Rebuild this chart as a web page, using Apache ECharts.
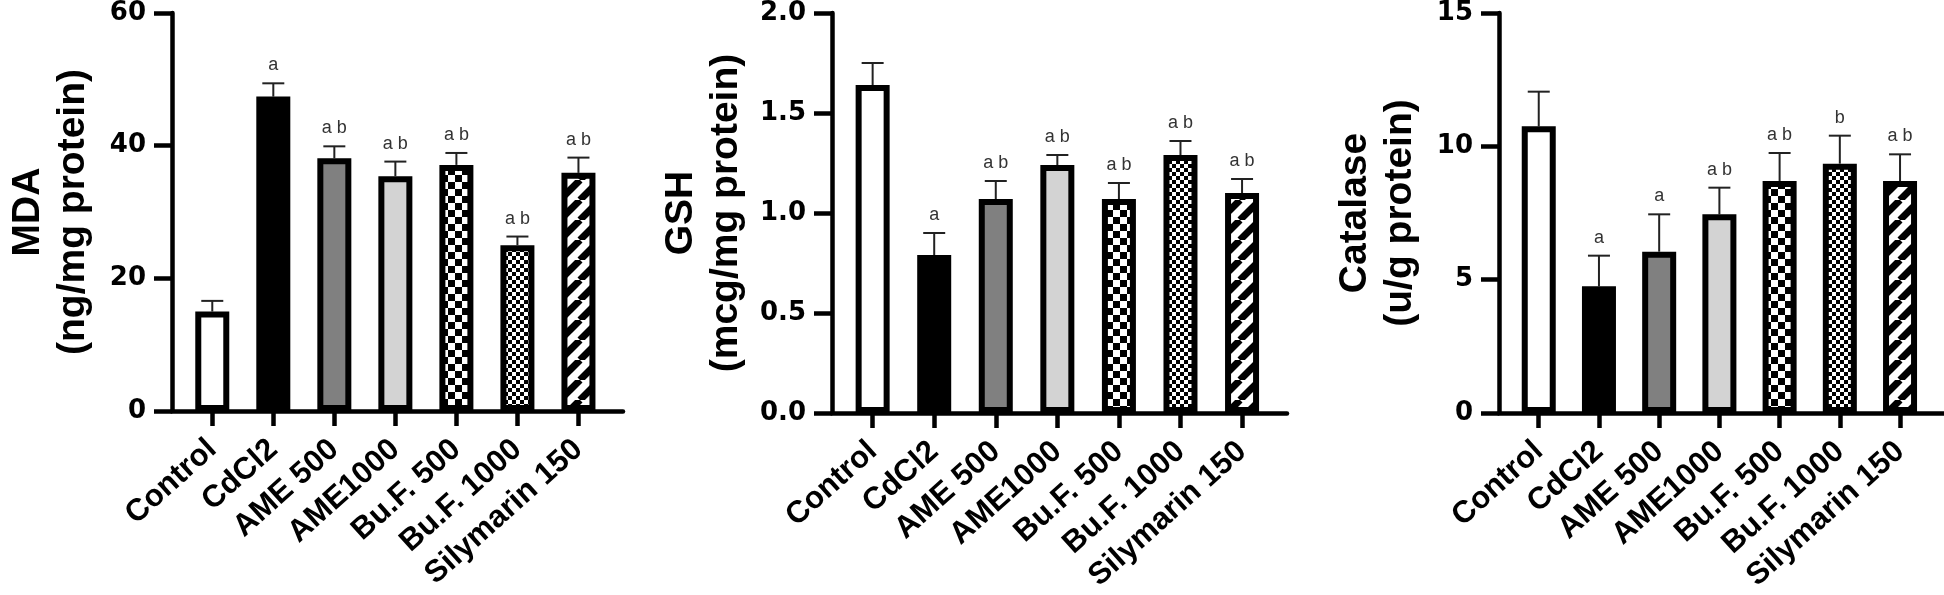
<!DOCTYPE html>
<html>
<head>
<meta charset="utf-8">
<script src="https://cdn.jsdelivr.net/npm/echarts@6/dist/echarts.min.js"></script>
<style>
  html, body { margin: 0; padding: 0; background: #fff; }
  #chart { width: 1944px; height: 595px; }
</style>
</head>
<body>
<div id="chart"></div>
<script>
// groups on the x axis (same for all three panels)
const groups = ["Control", "CdCl2", "AME 500", "AME1000", "Bu.F. 500", "Bu.F. 1000", "Silymarin 150"];

// MDA (ng/mg protein)
const mdaMean = [15.0, 47.4, 38.1, 35.4, 37.1, 25.0, 35.9];
const mdaSem = [1.6, 2.0, 1.8, 2.2, 1.8, 1.3, 2.3];
const mdaSig = ["", "a", "a b", "a b", "a b", "a b", "a b"];

// GSH (mcg/mg protein)
const gshMean = [1.64, 0.79, 1.07, 1.24, 1.07, 1.29, 1.1];
const gshSem = [0.11, 0.11, 0.09, 0.05, 0.08, 0.07, 0.07];
const gshSig = ["", "a", "a b", "a b", "a b", "a b", "a b"];

// Catalase (u/g protein)
const catMean = [10.75, 4.75, 6.05, 7.45, 8.7, 9.35, 8.7];
const catSem = [1.3, 1.15, 1.4, 1.0, 1.05, 1.05, 1.0];
const catSig = ["", "a", "a", "a b", "a b", "b", "a b"];

// y axis ticks
const mdaTicks = [0, 20, 40, 60];
const gshTicks = [0, 0.5, 1.0, 1.5, 2.0];
const catTicks = [0, 5, 10, 15];

const groupIdx = groups.map((g, i) => i);

// fill patterns
function makeChecker(size) {
  const c = document.createElement("canvas");
  c.width = size * 2;
  c.height = size * 2;
  const ctx = c.getContext("2d");
  ctx.fillStyle = "#fff";
  ctx.fillRect(0, 0, size * 2, size * 2);
  ctx.fillStyle = "#000";
  ctx.fillRect(0, 0, size, size);
  ctx.fillRect(size, size, size, size);
  return c;
}
function makeHatch(step, w) {
  const c = document.createElement("canvas");
  c.width = step;
  c.height = step;
  const ctx = c.getContext("2d");
  ctx.fillStyle = "#fff";
  ctx.fillRect(0, 0, step, step);
  ctx.strokeStyle = "#000";
  ctx.lineWidth = w;
  for (let k = -1; k <= 1; k++) {
    ctx.beginPath();
    ctx.moveTo(k * step, step);
    ctx.lineTo(k * step + step, 0);
    ctx.stroke();
  }
  return c;
}

const fills = [
  "#ffffff",
  "#000000",
  "#808080",
  "#d3d3d3",
  { image: makeChecker(7), repeat: "repeat" },
  { image: makeChecker(4), repeat: "repeat" },
  { image: makeHatch(20, 7), repeat: "repeat" },
];

const chart = echarts.init(document.getElementById("chart"));

const panels = [
  { mean: mdaMean, sem: mdaSem, sig: mdaSig, ticks: mdaTicks, dec: 0,
    name: "MDA\n(ng/mg protein)", left: 172, width: 451, top: 12, height: 399, nameGap: 76 },
  { mean: gshMean, sem: gshSem, sig: gshSig, ticks: gshTicks, dec: 1,
    name: "GSH\n(mcg/mg protein)", left: 832, width: 455, top: 12, height: 401, nameGap: 83 },
  { mean: catMean, sem: catSem, sig: catSig, ticks: catTicks, dec: 0,
    name: "Catalase\n(u/g protein)", left: 1499, width: 446, top: 11, height: 402, nameGap: 76 },
];

const grids = [], xAxes = [], yAxes = [], series = [];

panels.forEach((p, i) => {
  grids.push({ left: p.left, top: p.top, width: p.width, height: p.height });

  xAxes.push({
    type: "value",
    gridIndex: i,
    min: -0.66,
    max: 6.73,
    axisLine: { onZero: false, lineStyle: { color: "#000", width: 4.5 } },
    axisTick: { show: true, customValues: groupIdx, length: 15, lineStyle: { color: "#000", width: 4.5 } },
    axisLabel: {
      customValues: groupIdx,
      rotate: 42,
      margin: 34,
      color: "#000",
      fontFamily: "Liberation Sans",
      fontWeight: "bold",
      fontSize: 31,
      formatter: (v) => groups[Math.round(v)],
    },
    splitLine: { show: false },
  });

  const step = p.ticks[1] - p.ticks[0];
  yAxes.push({
    type: "value",
    gridIndex: i,
    min: p.ticks[0],
    max: p.ticks[p.ticks.length - 1],
    interval: step,
    name: p.name,
    nameLocation: "middle",
    nameRotate: 90,
    nameGap: p.nameGap,
    nameTextStyle: {
      color: "#000",
      fontFamily: "Liberation Sans",
      fontWeight: "bold",
      fontSize: 39,
      lineHeight: 45,
    },
    axisLine: { show: true, onZero: false, lineStyle: { color: "#000", width: 4.5 } },
    axisTick: { show: true, length: 18, lineStyle: { color: "#000", width: 4.5 } },
    axisLabel: {
      margin: 26,
      color: "#000",
      fontFamily: "DejaVu Sans",
      fontWeight: "bold",
      fontSize: 26,
      formatter: (v) => v.toFixed(p.dec),
    },
    splitLine: { show: false },
  });

  series.push({
    type: "bar",
    xAxisIndex: i,
    yAxisIndex: i,
    barWidth: 34,
    silent: true,
    itemStyle: { borderColor: "#000", borderWidth: 6 },
    data: p.mean.map((v, k) => ({ value: [k, v], itemStyle: { color: fills[k] } })),
  });

  // error bars (mean + SEM) with significance letters
  series.push({
    type: "custom",
    xAxisIndex: i,
    yAxisIndex: i,
    silent: true,
    data: p.mean.map((v, k) => [k, v, p.sem[k]]),
    renderItem: (params, api) => {
      const x = api.value(0);
      const y = api.value(1);
      const e = api.value(2);
      const base = api.coord([x, y]);
      const top = api.coord([x, y + e]);
      const hw = 11;
      return {
        type: "group",
        children: [
          { type: "line", shape: { x1: base[0], y1: base[1], x2: top[0], y2: top[1] },
            style: { stroke: "#222", lineWidth: 2 } },
          { type: "line", shape: { x1: top[0] - hw, y1: top[1], x2: top[0] + hw, y2: top[1] },
            style: { stroke: "#222", lineWidth: 2 } },
          { type: "text",
            style: {
              text: p.sig[params.dataIndex],
              x: top[0],
              y: top[1] - 18,
              align: "center",
              verticalAlign: "middle",
              fill: "#333",
              font: "18px 'Liberation Sans Narrow', 'Liberation Sans', sans-serif",
            } },
        ],
      };
    },
  });
});

chart.setOption({
  animation: false,
  backgroundColor: "#fff",
  grid: grids,
  xAxis: xAxes,
  yAxis: yAxes,
  series: series,
});

window.addEventListener("resize", () => {
  chart.resize();
});
</script>
</body>
</html>
